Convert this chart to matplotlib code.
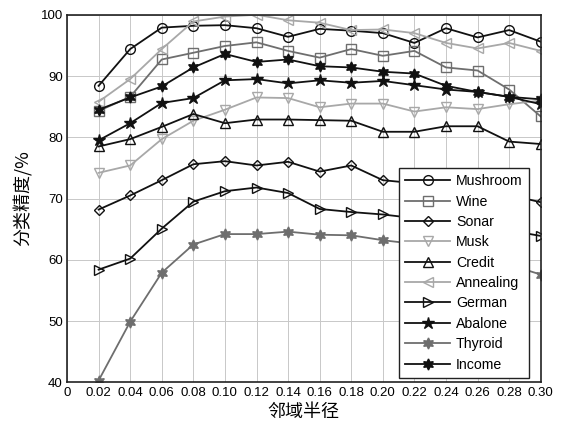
import numpy as np
import matplotlib.pyplot as plt

plt.rcParams['font.family'] = ['Liberation Sans', 'DejaVu Sans']

# 邻域半径
radius = [0.02, 0.04, 0.06, 0.08, 0.10, 0.12, 0.14, 0.16, 0.18, 0.20, 0.22, 0.24, 0.26, 0.28, 0.30]

mushroom = [88.4, 94.4, 97.9, 98.2, 98.3, 97.8, 96.4, 97.7, 97.4, 97.0, 95.4, 97.8, 96.3, 97.5, 95.6]
wine = [84.3, 86.6, 92.7, 93.8, 94.9, 95.5, 94.1, 93.0, 94.4, 93.3, 94.1, 91.4, 90.9, 87.8, 83.4]
sonar = [68.2, 70.5, 73.0, 75.6, 76.1, 75.4, 76.0, 74.4, 75.4, 73.0, 72.5, 72.0, 71.4, 70.6, 69.4]
musk = [74.2, 75.4, 79.7, 82.7, 84.5, 86.5, 86.4, 84.9, 85.5, 85.5, 84.2, 84.9, 84.6, 85.4, 86.0]
credit = [78.5, 79.7, 81.7, 83.8, 82.3, 82.9, 82.9, 82.8, 82.7, 80.9, 80.9, 81.8, 81.8, 79.3, 78.9]
annealing = [85.8, 89.5, 94.4, 98.9, 99.7, 100.0, 99.1, 98.7, 97.5, 97.6, 97.0, 95.4, 94.5, 95.4, 94.1]
german = [58.4, 60.2, 65.1, 69.5, 71.2, 71.8, 70.9, 68.3, 67.8, 67.4, 66.8, 66.2, 65.5, 64.8, 63.9]
abalone = [79.5, 82.3, 85.6, 86.4, 89.3, 89.5, 88.8, 89.3, 88.9, 89.2, 88.5, 87.8, 87.4, 86.6, 85.4]
thyroid = [40.3, 49.9, 57.9, 62.5, 64.2, 64.2, 64.6, 64.1, 64.0, 63.2, 62.6, 61.6, 60.5, 59.2, 57.6]
income = [84.5, 86.5, 88.3, 91.4, 93.6, 92.3, 92.7, 91.6, 91.4, 90.7, 90.4, 88.4, 87.4, 86.6, 86.2]

xticks = np.arange(0, 0.301, 0.02)
xticklabels = ['0'] + ['%.2f' % v for v in xticks[1:]]

fig = plt.figure(figsize=(5.68, 4.34), dpi=100)
ax = fig.add_axes([0.118, 0.119, 0.834, 0.847])

blk = '#111111'
mid = '#6e6e6e'
lgt = '#a8a8a8'
ms = 7

ax.plot(radius, mushroom, color=blk, marker='o', mfc='none', ms=ms, lw=1.3, label='Mushroom')
ax.plot(radius, wine, color=mid, marker='s', mfc='none', ms=ms, lw=1.3, label='Wine')
ax.plot(radius, sonar, color=blk, marker='D', mfc='none', ms=5.5, lw=1.3, label='Sonar')
ax.plot(radius, musk, color=lgt, marker='v', mfc='none', ms=ms, lw=1.3, label='Musk')
ax.plot(radius, credit, color=blk, marker='^', mfc='none', ms=ms, lw=1.3, label='Credit')
ax.plot(radius, annealing, color=lgt, marker='<', mfc='none', ms=ms, lw=1.3, label='Annealing')
ax.plot(radius, german, color=blk, marker='>', mfc='none', ms=ms, lw=1.3, label='German')
ax.plot(radius, abalone, color=blk, marker='*', ms=9, lw=1.3, label='Abalone')
ax.plot(radius, thyroid, color=mid, marker=(6, 1, 0), ms=8, lw=1.3, label='Thyroid')
ax.plot(radius, income, color=blk, marker=(6, 1, 0), ms=8, lw=1.3, label='Income')

ax.set_xlim(0, 0.30)
ax.set_ylim(40, 100)
ax.set_xticks(xticks)
ax.set_xticklabels(xticklabels)
ax.set_yticks(np.arange(40, 101, 10))
ax.tick_params(labelsize=9.5, direction='in', length=0, pad=3)
ax.grid(True, color='#c8c8c8', lw=0.7)
for s in ax.spines.values():
    s.set_linewidth(1.2)
    s.set_color('#222222')

ax.set_xlabel('邻域半径', family=['Noto Sans CJK SC'], fontsize=13, labelpad=3)
ax.set_ylabel('分类精度/%', family=['Noto Sans CJK SC'], fontsize=13, labelpad=6)

leg = ax.legend(loc='lower right', bbox_to_anchor=(0.975, 0.012), borderaxespad=0,
                fontsize=10.2, fancybox=False, framealpha=1, edgecolor='#222222',
                handlelength=3.2, labelspacing=0.45, borderpad=0.45, handletextpad=0.4)
leg.get_frame().set_linewidth(1.0)

fig.savefig('out.png', dpi=100)
